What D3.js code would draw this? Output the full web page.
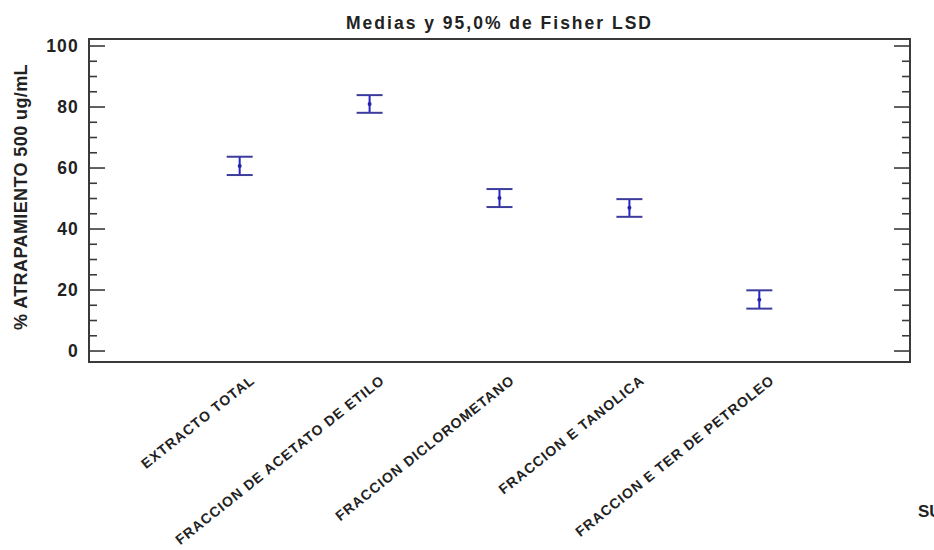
<!DOCTYPE html>
<html>
<head>
<meta charset="utf-8">
<script src="https://cdn.jsdelivr.net/npm/d3@7/dist/d3.min.js"></script>
<style>
  html, body { margin: 0; padding: 0; background: #fff; }
  svg { display: block; }
  text { font-family: Arial, "Liberation Sans", sans-serif; font-weight: bold; fill: #222; }
</style>
</head>
<body>
<svg id="chart" width="934" height="550"></svg>
<script>
// Groups (substances) tested
const categories = [
  "EXTRACTO TOTAL",
  "FRACCION DE ACETATO DE ETILO",
  "FRACCION DICLOROMETANO",
  "FRACCION E TANOLICA",
  "FRACCION E TER DE PETROLEO"
];
// Mean % scavenging and the 95% Fisher LSD interval bounds
const means = [60.7, 81.0, 50.2, 47.0, 16.8];
const lower = [57.7, 78.1, 47.2, 44.0, 13.9];
const upper = [63.7, 83.9, 53.1, 49.8, 19.9];
const yTicks = [0, 20, 40, 60, 80, 100];
const yMinorTicks = [5, 10, 15, 25, 30, 35, 45, 50, 55, 65, 70, 75, 85, 90, 95];

const chartTitle = "Medias y 95,0% de Fisher LSD";
const yTitle = "% ATRAPAMIENTO 500 ug/mL";
const xTitle = "SUSTANCIA";

const svg = d3.select("#chart");
const box = { left: 89, right: 910, top: 39, bottom: 362 };

const x = d3.scalePoint()
  .domain(categories)
  .range([box.left, box.right])
  .padding(1.16);

const y = d3.scaleLinear()
  .domain([-3.6, 102.3])
  .range([box.bottom, box.top]);

const axisColor = "#3a3a3a";

// Frame
svg.append("rect")
  .attr("x", box.left).attr("y", box.top)
  .attr("width", box.right - box.left).attr("height", box.bottom - box.top)
  .attr("fill", "none").attr("stroke", axisColor).attr("stroke-width", 2);

// Inward tick marks on a vertical edge; dir = +1 (left edge) or -1 (right edge)
function ticksOn(xPos, dir) {
  const gEdge = svg.append("g").attr("transform", `translate(${xPos},0)`);
  gEdge.selectAll("line.minor")
    .data(yMinorTicks)
    .join("line")
    .attr("class", "minor")
    .attr("x1", 0).attr("x2", 8 * dir)
    .attr("y1", d => y(d)).attr("y2", d => y(d))
    .attr("stroke", axisColor).attr("stroke-width", 1.6);
  gEdge.selectAll("line.major")
    .data(yTicks)
    .join("line")
    .attr("class", "major")
    .attr("x1", 0).attr("x2", 16 * dir)
    .attr("y1", d => y(d)).attr("y2", d => y(d))
    .attr("stroke", axisColor).attr("stroke-width", 1.6);
  return gEdge;
}

const leftAxis = ticksOn(box.left, 1);
ticksOn(box.right, -1);

leftAxis.selectAll("text")
  .data(yTicks)
  .join("text")
  .attr("x", -10)
  .attr("y", d => y(d))
  .attr("dy", "0.36em")
  .attr("text-anchor", "end")
  .attr("font-size", 17.5)
  .attr("letter-spacing", 1.2)
  .text(d => d);

// Category labels, slanted
svg.append("g").selectAll("text")
  .data(categories)
  .join("text")
  .attr("transform", d => `translate(${x(d) + 16},${box.bottom + 20}) rotate(-38.5)`)
  .attr("text-anchor", "end")
  .attr("font-size", 14)
  .attr("letter-spacing", 1)
  .text(d => d);

// Interval bars with mean point
const capHalf = 13;
const g = svg.append("g").selectAll("g")
  .data(categories.map((c, i) => ({ c, m: means[i], lo: lower[i], hi: upper[i] })))
  .join("g");
g.append("line")
  .attr("x1", d => x(d.c)).attr("x2", d => x(d.c))
  .attr("y1", d => y(d.hi)).attr("y2", d => y(d.lo))
  .attr("stroke", "#2424c8").attr("stroke-width", 2);
g.append("line")
  .attr("x1", d => x(d.c) - capHalf).attr("x2", d => x(d.c) + capHalf)
  .attr("y1", d => y(d.hi)).attr("y2", d => y(d.hi))
  .attr("stroke", "#3c3c9c").attr("stroke-width", 2);
g.append("line")
  .attr("x1", d => x(d.c) - capHalf).attr("x2", d => x(d.c) + capHalf)
  .attr("y1", d => y(d.lo)).attr("y2", d => y(d.lo))
  .attr("stroke", "#3c3c9c").attr("stroke-width", 2);
g.append("circle")
  .attr("cx", d => x(d.c)).attr("cy", d => y(d.m))
  .attr("r", 2).attr("fill", "#2424a8");

// Titles
svg.append("text")
  .attr("x", (box.left + box.right) / 2)
  .attr("y", 29)
  .attr("text-anchor", "middle")
  .attr("font-size", 17.5)
  .attr("letter-spacing", 2)
  .text(chartTitle);

svg.append("text")
  .attr("transform", `translate(27,197) rotate(-90)`)
  .attr("text-anchor", "middle")
  .attr("font-size", 18)
  .attr("letter-spacing", 0.4)
  .text(yTitle);

svg.append("text")
  .attr("x", 918)
  .attr("y", 517)
  .attr("font-size", 17)
  .text(xTitle);
</script>
</body>
</html>
